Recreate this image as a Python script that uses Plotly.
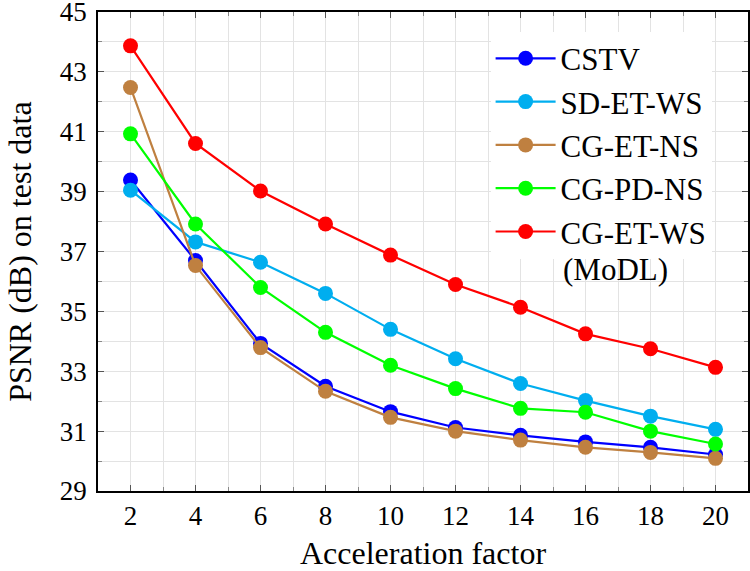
import plotly.graph_objects as go

# acceleration factors
accel = [2, 4, 6, 8, 10, 12, 14, 16, 18, 20]
psnr_ticks = [29, 31, 33, 35, 37, 39, 41, 43, 45]

# PSNR (dB) per method
cstv = [39.39, 36.70, 33.93, 32.50, 31.65, 31.12, 30.86, 30.64, 30.46, 30.22]
sd_et_ws = [39.05, 37.32, 36.64, 35.60, 34.40, 33.42, 32.59, 32.02, 31.50, 31.06]
cg_et_ns = [42.48, 36.53, 33.79, 32.33, 31.46, 31.00, 30.70, 30.46, 30.29, 30.09]
cg_pd_ns = [40.93, 37.92, 35.80, 34.30, 33.20, 32.42, 31.76, 31.63, 31.00, 30.57]
cg_et_ws = [43.87, 40.61, 39.02, 37.92, 36.88, 35.90, 35.14, 34.25, 33.75, 33.13]

series = [
    ("CSTV", cstv, "#0000ff"),
    ("SD-ET-WS", sd_et_ws, "#00aeef"),
    ("CG-ET-NS", cg_et_ns, "#bf8040"),
    ("CG-PD-NS", cg_pd_ns, "#00ff00"),
    ("CG-ET-WS", cg_et_ws, "#ff0000"),
]

serif = "Liberation Serif"

fig = go.Figure()
for name, vals, col in series:
    fig.add_trace(go.Scatter(x=accel, y=vals, name=name, mode="lines+markers",
                             line=dict(color=col, width=2.2),
                             marker=dict(color=col, size=15)))

grid = "#e3e3e3"
axis_common = dict(showline=True, linecolor="black", linewidth=1.5, mirror="ticks",
                   ticks="inside", ticklen=6, tickcolor="#555", gridcolor=grid, gridwidth=1,
                   zeroline=False, automargin=False,
                   tickfont=dict(family=serif, size=27, color="black"))

fig.update_xaxes(range=[1, 21], tickvals=accel,
                 minor=dict(tickvals=[3, 5, 7, 9, 11, 13, 15, 17, 19], showgrid=True,
                            gridcolor=grid, ticks="inside", ticklen=4, tickcolor="#888"),
                 **axis_common)
fig.update_yaxes(range=[29, 45], tickvals=psnr_ticks, ticklabeloverflow="allow",
                 ticklabelstandoff=4,
                 minor=dict(tickvals=[30, 32, 34, 36, 38, 40, 42, 44], showgrid=True, gridcolor=grid,
                            ticks="inside", ticklen=4, tickcolor="#888"),
                 **axis_common)

title_font = dict(family=serif, size=32, color="black")
fig.add_annotation(text="Acceleration factor", xref="paper", yref="paper", x=0.5, y=-0.129,
                   xanchor="center", yanchor="middle", showarrow=False, font=title_font)
fig.add_annotation(text="PSNR (dB) on test data", xref="paper", yref="paper", x=-0.121, y=0.5,
                   xanchor="center", yanchor="middle", textangle=-90, showarrow=False,
                   font=title_font)

# second line of the last legend entry sits below the legend box, as in the original
fig.add_annotation(text="(MoDL)", xref="paper", yref="paper", x=0.712, y=0.463,
                   xanchor="left", yanchor="middle", showarrow=False,
                   font=dict(family=serif, size=31, color="black"))

fig.update_layout(
    width=750, height=571,
    margin=dict(l=98, r=2, t=12, b=80),
    paper_bgcolor="white", plot_bgcolor="white",
    font=dict(family=serif, color="black"),
    legend=dict(x=0.604, y=0.959, xanchor="left", yanchor="top",
                bgcolor="white", borderwidth=0, font=dict(family=serif, size=31),
                itemwidth=60, tracegroupgap=0),
)

# drop the page's default body margin so the figure sits at the window origin
fig.write_html("out.html", config={"displayModeBar": False},
               post_script="document.body.style.margin='0';")
